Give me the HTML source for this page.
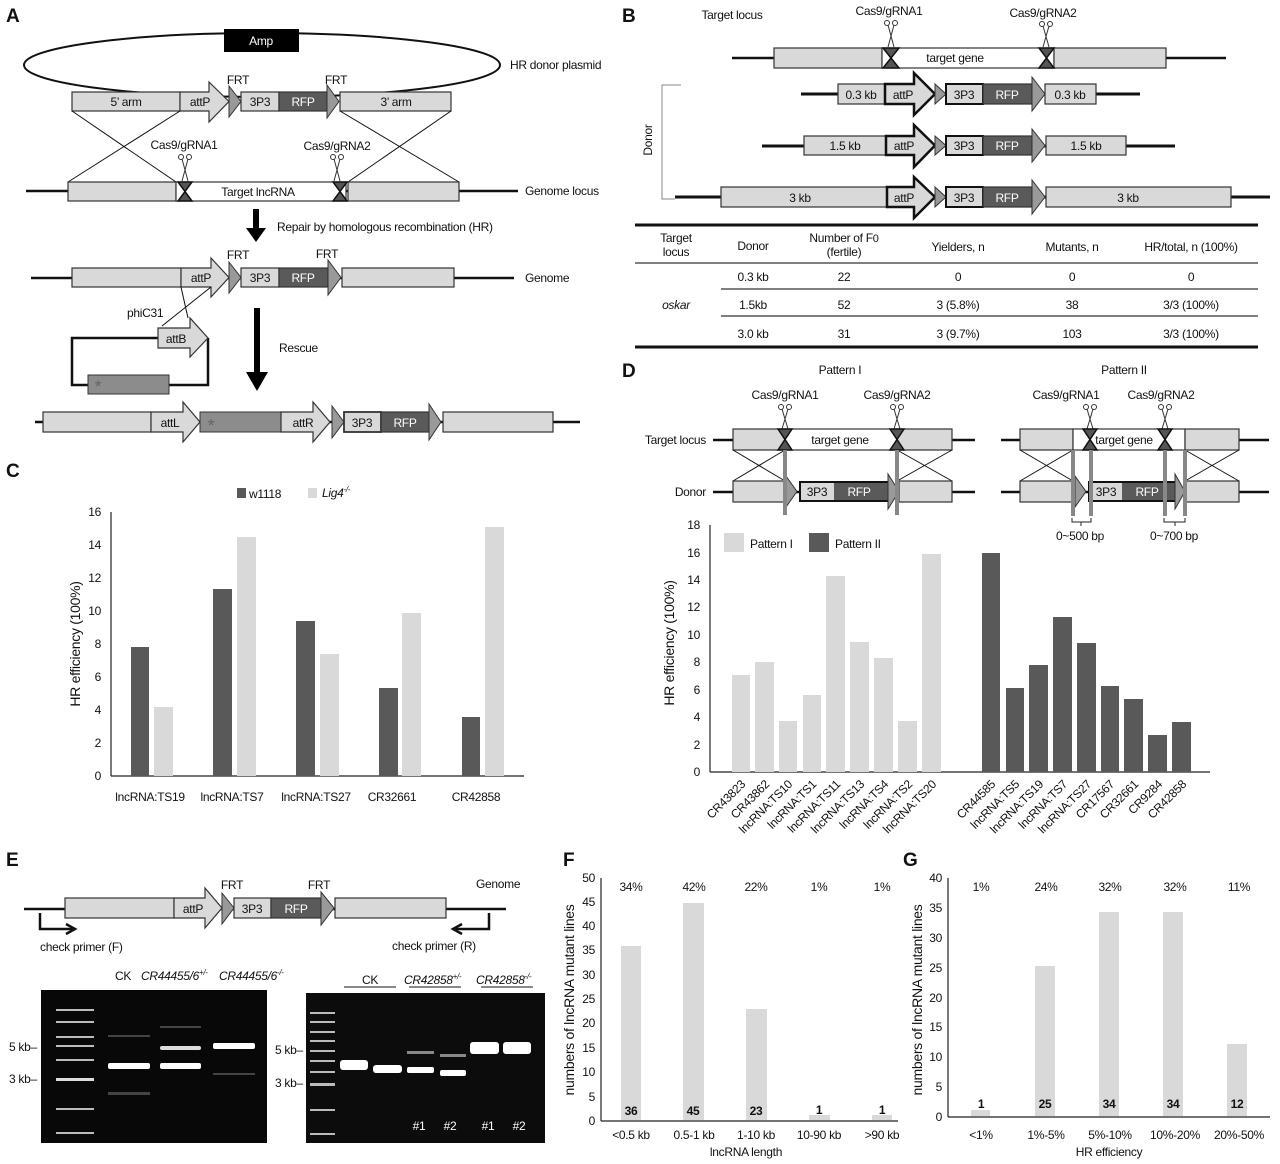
<!DOCTYPE html>
<html><head><meta charset="utf-8"><style>
html,body{margin:0;padding:0;background:#fff}
svg{display:block}
text{font-family:"Liberation Sans",Arial,sans-serif;font-size:12px;fill:#111;letter-spacing:-0.3px}
.L{font-size:19px;font-weight:bold;letter-spacing:0}
.lt{fill:#d9d9d9;stroke:#333;stroke-width:1.2}
.dk{fill:#5a5a5a;stroke:#333;stroke-width:1.2}
.gr{fill:#999;stroke:#333;stroke-width:1}
.wh{fill:#fff;stroke:#333;stroke-width:1.2}
.ln{stroke:#111;stroke-width:2.5}
.th{stroke:#111;stroke-width:1}
.bt{fill:#555;stroke:#111;stroke-width:1.5}
.w{fill:#fff}
.gl{stroke:#888;stroke-width:4}
</style></head><body>
<svg width="1280" height="1164" viewBox="0 0 1280 1164" xmlns="http://www.w3.org/2000/svg">

<!-- ===== A ===== -->
<text class="L" x="6" y="22">A</text>
<ellipse cx="262" cy="65" rx="238" ry="32" fill="none" stroke="#111" stroke-width="2"/>
<rect x="224" y="29" width="75" height="23" fill="#000"/>
<text x="261" y="45" text-anchor="middle" class="w" style="fill:#fff">Amp</text>
<text x="510" y="69">HR donor plasmid</text>
<rect class="lt" x="72" y="92" width="108" height="19"/><text x="126" y="106" text-anchor="middle">5’ arm</text>
<polygon class="lt" points="180,92 209,92 209,82 229,101.5 209,122 209,111 180,111"/><text x="200" y="106" text-anchor="middle">attP</text>
<polygon class="gr" points="229,86 241,101.5 229,117"/>
<rect class="lt" x="241" y="92" width="38" height="19"/><text x="260" y="106" text-anchor="middle">3P3</text>
<rect class="dk" x="279" y="92" width="48" height="19"/><text x="303" y="106" text-anchor="middle" style="fill:#fff">RFP</text>
<polygon class="gr" points="327,85 339,101.5 327,118"/>
<rect class="lt" x="340" y="92" width="111" height="19"/><text x="396" y="106" text-anchor="middle">3’ arm</text>
<text x="238" y="84" text-anchor="middle">FRT</text><text x="336" y="84" text-anchor="middle">FRT</text>
<line class="th" x1="72" y1="111" x2="176" y2="182"/><line class="th" x1="180" y1="111" x2="68" y2="182"/>
<line class="th" x1="340" y1="111" x2="459" y2="182"/><line class="th" x1="451" y1="111" x2="348" y2="182"/>
<line class="ln" x1="26" y1="191" x2="518" y2="191"/>
<rect class="lt" x="68" y="182" width="108" height="19"/>
<rect class="wh" x="176" y="182" width="170" height="19"/>
<rect class="lt" x="348" y="182" width="111" height="19"/>
<text x="258" y="196" text-anchor="middle">Target lncRNA</text>
<polygon class="bt" points="178,182 192,182 185,191.5"/><polygon class="bt" points="178,201 192,201 185,191.5"/>
<polygon class="bt" points="333,182 347,182 340,191.5"/><polygon class="bt" points="333,201 347,201 340,191.5"/>
<text x="184" y="149" text-anchor="middle">Cas9/gRNA1</text><text x="337" y="150" text-anchor="middle">Cas9/gRNA2</text>
<g fill="none" stroke="#333" stroke-width="1"><circle cx="181" cy="157" r="2.5"/><circle cx="189" cy="157" r="2.5"/><path d="M182,159 L188,181 M188,159 L182,181"/>
<circle cx="333" cy="157" r="2.5"/><circle cx="341" cy="157" r="2.5"/><path d="M334,159 L340,181 M340,159 L334,181"/></g>
<text x="525" y="195">Genome locus</text>
<rect x="253" y="209" width="6" height="20" fill="#000"/><polygon points="246,228 266,228 256,242" fill="#000"/>
<text x="277" y="231">Repair by homologous recombination (HR)</text>
<text x="238" y="259" text-anchor="middle">FRT</text><text x="327" y="258" text-anchor="middle">FRT</text>
<line class="ln" x1="31" y1="278" x2="514" y2="278"/>
<rect class="lt" x="72" y="268" width="109" height="19"/>
<polygon class="lt" points="181,268 211,268 211,258 229,277.5 211,297 211,287 181,287"/><text x="201" y="282" text-anchor="middle">attP</text>
<polygon class="gr" points="229,262 241,277.5 229,293"/>
<rect class="lt" x="241" y="268" width="38" height="19"/><text x="260" y="282" text-anchor="middle">3P3</text>
<rect class="dk" x="279" y="268" width="49" height="19"/><text x="303" y="282" text-anchor="middle" style="fill:#fff">RFP</text>
<polygon class="gr" points="328,260 341,277.5 328,295"/>
<rect class="lt" x="342" y="268" width="112" height="19"/>
<text x="525" y="282">Genome</text>
<line class="th" x1="181" y1="287" x2="188" y2="318"/><line class="th" x1="211" y1="287" x2="162" y2="326"/>
<text x="127" y="317">phiC31</text>
<polyline points="158,338 72,338 72,385 88,385" fill="none" stroke="#111" stroke-width="2.5"/>
<polyline points="169,385 208,385 208,338" fill="none" stroke="#111" stroke-width="2.5"/>
<polygon class="lt" points="158,328 190,328 190,318 208,338 190,357 190,348 158,348"/><text x="176" y="343" text-anchor="middle">attB</text>
<rect x="88" y="375" width="81" height="19" fill="#8c8c8c" stroke="#333"/><text x="98" y="393" text-anchor="middle" style="fill:#666;font-size:18px">*</text>
<rect x="254" y="308" width="6" height="67" fill="#000"/><polygon points="246,372 268,372 257,391" fill="#000"/>
<text x="279" y="352">Rescue</text>
<line class="ln" x1="35" y1="422" x2="580" y2="422"/>
<rect class="lt" x="43" y="412" width="108" height="20"/>
<polygon class="lt" points="151,412 183,412 183,402 200,422 183,442 183,432 151,432"/><text x="170" y="427" text-anchor="middle">attL</text>
<rect x="200" y="412" width="81" height="20" fill="#8c8c8c" stroke="#333"/><text x="211" y="432" text-anchor="middle" style="fill:#666;font-size:18px">*</text>
<polygon class="lt" points="281,412 313,412 313,402 330,422 313,442 313,432 281,432"/><text x="303" y="427" text-anchor="middle">attR</text>
<polygon class="gr" points="332,406 344,422 332,438"/>
<rect class="lt" x="344" y="412" width="37" height="20" style="stroke-width:1.8"/><text x="362" y="427" text-anchor="middle">3P3</text>
<rect class="dk" x="381" y="412" width="48" height="20"/><text x="405" y="427" text-anchor="middle" style="fill:#fff">RFP</text>
<polygon class="gr" points="429,404 441,422 429,440"/>
<rect class="lt" x="443" y="412" width="110" height="20"/>

<!-- ===== B ===== -->
<text class="L" x="622" y="22">B</text>
<text x="732" y="19" text-anchor="middle">Target locus</text>
<text x="889" y="15" text-anchor="middle">Cas9/gRNA1</text><text x="1043" y="17" text-anchor="middle">Cas9/gRNA2</text>
<g fill="none" stroke="#333" stroke-width="1"><circle cx="887" cy="23" r="2.5"/><circle cx="895" cy="23" r="2.5"/><path d="M888,25 L894,47 M894,25 L888,47"/>
<circle cx="1042" cy="24" r="2.5"/><circle cx="1050" cy="24" r="2.5"/><path d="M1043,26 L1049,47 M1049,26 L1043,47"/></g>
<line class="ln" x1="732" y1="58" x2="1226" y2="58"/>
<rect class="lt" x="774" y="48" width="108" height="20"/>
<rect class="wh" x="882" y="48" width="172" height="20"/>
<rect class="lt" x="1054" y="48" width="112" height="20"/>
<text x="955" y="62" text-anchor="middle">target gene</text>
<polygon class="bt" points="883,48 899,48 891,58"/><polygon class="bt" points="883,68 899,68 891,58"/>
<polygon class="bt" points="1039,48 1054,48 1046.5,58"/><polygon class="bt" points="1039,68 1054,68 1046.5,58"/>
<g>
<line class="ln" x1="801" y1="94" x2="1140" y2="94" style="stroke-width:3"/>
<rect class="lt" x="838" y="84" width="47" height="20"/><text x="861" y="99" text-anchor="middle">0.3 kb</text>
<polygon class="lt" points="885,84 914,84 914,73 935,94 914,115 914,104 885,104" style="stroke:#111;stroke-width:2.5"/><text x="903" y="99" text-anchor="middle">attP</text>
<polygon class="gr" points="935,84 946,94 935,104"/>
<rect class="lt" x="946" y="84" width="37" height="20" style="stroke:#111;stroke-width:2"/><text x="964" y="99" text-anchor="middle">3P3</text>
<rect class="dk" x="983" y="84" width="49" height="20"/><text x="1007" y="99" text-anchor="middle" style="fill:#fff">RFP</text>
<polygon class="gr" points="1032,77 1045,94 1032,111"/>
<rect class="lt" x="1045" y="84" width="51" height="20"/><text x="1070" y="99" text-anchor="middle">0.3 kb</text>
</g>
<g>
<line class="ln" x1="762" y1="146" x2="1175" y2="146" style="stroke-width:3"/>
<rect class="lt" x="804" y="136" width="82" height="19"/><text x="845" y="150" text-anchor="middle">1.5 kb</text>
<polygon class="lt" points="886,136 914,136 914,125 935,145.5 914,167 914,155 886,155" style="stroke:#111;stroke-width:2.5"/><text x="904" y="150" text-anchor="middle">attP</text>
<polygon class="gr" points="935,136 946,145.5 935,155"/>
<rect class="lt" x="946" y="136" width="37" height="19" style="stroke:#111;stroke-width:2"/><text x="964" y="150" text-anchor="middle">3P3</text>
<rect class="dk" x="983" y="136" width="49" height="19"/><text x="1007" y="150" text-anchor="middle" style="fill:#fff">RFP</text>
<polygon class="gr" points="1032,129 1045,145.5 1032,162"/>
<rect class="lt" x="1046" y="136" width="80" height="19"/><text x="1086" y="150" text-anchor="middle">1.5 kb</text>
</g>
<g>
<line class="ln" x1="675" y1="197" x2="1270" y2="197" style="stroke-width:3"/>
<rect class="lt" x="721" y="187" width="166" height="20"/><text x="800" y="202" text-anchor="middle">3 kb</text>
<polygon class="lt" points="887,187 914,187 914,177 935,197 914,218 914,207 887,207" style="stroke:#111;stroke-width:2.5"/><text x="904" y="202" text-anchor="middle">attP</text>
<polygon class="gr" points="935,187 946,197 935,207"/>
<rect class="lt" x="946" y="187" width="37" height="20" style="stroke:#111;stroke-width:2"/><text x="964" y="202" text-anchor="middle">3P3</text>
<rect class="dk" x="983" y="187" width="49" height="20"/><text x="1007" y="202" text-anchor="middle" style="fill:#fff">RFP</text>
<polygon class="gr" points="1032,180 1045,197 1032,214"/>
<rect class="lt" x="1046" y="187" width="185" height="20"/><text x="1128" y="202" text-anchor="middle">3 kb</text>
</g>
<polyline points="681,85 662,85 662,199 675,199" fill="none" stroke="#888" stroke-width="1"/>
<text x="0" y="0" transform="translate(652,140) rotate(-90)" text-anchor="middle">Donor</text>
<line x1="635" y1="225" x2="1258" y2="225" stroke="#111" stroke-width="3"/>
<line x1="635" y1="263" x2="1258" y2="263" stroke="#333" stroke-width="1.2"/>
<line x1="721" y1="289" x2="1258" y2="289" stroke="#333" stroke-width="1.2"/>
<line x1="721" y1="316" x2="1258" y2="316" stroke="#333" stroke-width="1.2"/>
<line x1="635" y1="347" x2="1258" y2="347" stroke="#111" stroke-width="3"/>
<g text-anchor="middle">
<text x="676" y="242">Target</text><text x="676" y="256">locus</text>
<text x="753" y="250">Donor</text>
<text x="844" y="242">Number of F<tspan font-size="11">0</tspan></text><text x="844" y="256">(fertile)</text>
<text x="958" y="251">Yielders, n</text>
<text x="1072" y="251">Mutants, n</text>
<text x="1191" y="251">HR/total, n (100%)</text>
<text x="753" y="281">0.3 kb</text><text x="844" y="281">22</text><text x="958" y="281">0</text><text x="1072" y="281">0</text><text x="1191" y="281">0</text>
<text x="676" y="309" font-style="italic">oskar</text>
<text x="753" y="309">1.5kb</text><text x="844" y="309">52</text><text x="958" y="309">3 (5.8%)</text><text x="1072" y="309">38</text><text x="1191" y="309">3/3 (100%)</text>
<text x="753" y="338">3.0 kb</text><text x="844" y="338">31</text><text x="958" y="338">3 (9.7%)</text><text x="1072" y="338">103</text><text x="1191" y="338">3/3 (100%)</text>
</g>

<!-- ===== C ===== -->
<text class="L" x="6" y="477">C</text>
<rect x="237" y="488" width="9" height="10" fill="#595959"/><text x="249" y="498">w1118</text>
<rect x="308" y="488" width="9" height="10" fill="#d9d9d9"/><text x="322" y="497" font-style="italic">Lig4<tspan font-size="8" dy="-5">-/-</tspan></text>
<line x1="111" y1="512" x2="111" y2="776" stroke="#222" stroke-width="1.2"/>
<line x1="111" y1="776" x2="524" y2="776" stroke="#222" stroke-width="1.2"/>
<g text-anchor="end">
<text x="101" y="780">0</text><text x="101" y="747">2</text><text x="101" y="714">4</text><text x="101" y="681">6</text><text x="101" y="648">8</text><text x="101" y="615">10</text><text x="101" y="582">12</text><text x="101" y="549">14</text><text x="101" y="516">16</text>
</g>
<text transform="translate(80,644) rotate(-90)" text-anchor="middle" style="font-size:14px">HR efficiency (100%)</text>
<g fill="#595959">
<rect x="131" y="647" width="18" height="129"/><rect x="213" y="589" width="19" height="187"/><rect x="296" y="621" width="19" height="155"/><rect x="379" y="688" width="19" height="88"/><rect x="462" y="717" width="18" height="59"/>
</g>
<g fill="#d9d9d9">
<rect x="154" y="707" width="19" height="69"/><rect x="237" y="537" width="19" height="239"/><rect x="320" y="654" width="19" height="122"/><rect x="402" y="613" width="19" height="163"/><rect x="485" y="527" width="19" height="249"/>
</g>
<g text-anchor="middle">
<text x="150" y="801">lncRNA:TS19</text><text x="232" y="801">lncRNA:TS7</text><text x="316" y="801">lncRNA:TS27</text><text x="392" y="801">CR32661</text><text x="476" y="801">CR42858</text>
</g>

<!-- ===== D ===== -->
<text class="L" x="622" y="377">D</text>
<text x="840" y="374" text-anchor="middle">Pattern I</text><text x="1124" y="374" text-anchor="middle">Pattern II</text>
<text x="785" y="399" text-anchor="middle">Cas9/gRNA1</text><text x="897" y="399" text-anchor="middle">Cas9/gRNA2</text>
<text x="1066" y="399" text-anchor="middle">Cas9/gRNA1</text><text x="1161" y="399" text-anchor="middle">Cas9/gRNA2</text>
<g fill="none" stroke="#333" stroke-width="1">
<circle cx="781" cy="407" r="2.5"/><circle cx="789" cy="407" r="2.5"/><path d="M782,409 L788,429 M788,409 L782,429"/>
<circle cx="893" cy="407" r="2.5"/><circle cx="901" cy="407" r="2.5"/><path d="M894,409 L900,429 M900,409 L894,429"/>
<circle cx="1086" cy="407" r="2.5"/><circle cx="1094" cy="407" r="2.5"/><path d="M1087,409 L1093,429 M1093,409 L1087,429"/>
<circle cx="1161" cy="407" r="2.5"/><circle cx="1169" cy="407" r="2.5"/><path d="M1162,409 L1168,429 M1168,409 L1162,429"/>
</g>
<text x="706" y="444" text-anchor="end">Target locus</text>
<text x="706" y="496" text-anchor="end">Donor</text>
<line class="ln" x1="713" y1="440" x2="975" y2="440"/>
<rect class="lt" x="733" y="429" width="52" height="21"/>
<rect class="wh" x="785" y="429" width="112" height="21"/>
<rect class="lt" x="897" y="429" width="55" height="21"/>
<text x="840" y="444" text-anchor="middle">target gene</text>
<polygon class="bt" points="778,429 792,429 785,439.5"/><polygon class="bt" points="778,450 792,450 785,439.5"/>
<polygon class="bt" points="890,429 904,429 897,439.5"/><polygon class="bt" points="890,450 904,450 897,439.5"/>
<line class="th" x1="733" y1="450" x2="785" y2="481"/><line class="th" x1="785" y1="450" x2="733" y2="481"/>
<line class="th" x1="897" y1="450" x2="952" y2="481"/><line class="th" x1="952" y1="450" x2="897" y2="481"/>
<line class="ln" x1="713" y1="492" x2="975" y2="492"/>
<rect class="lt" x="733" y="481" width="53" height="21"/>
<polygon class="gr" points="786,476 797,491.5 786,507"/>
<rect x="799" y="481" width="89" height="21" fill="#111"/>
<rect x="801" y="483" width="33" height="17" fill="#d9d9d9"/><text x="817" y="496" text-anchor="middle">3P3</text>
<rect x="834" y="483" width="54" height="17" fill="#5a5a5a"/><text x="859" y="496" text-anchor="middle" style="fill:#fff">RFP</text>
<polygon class="gr" points="888,474 899,491.5 888,509"/>
<rect class="lt" x="899" y="481" width="53" height="21"/>
<line class="gl" x1="785" y1="450" x2="785" y2="515"/><line class="gl" x1="897" y1="450" x2="897" y2="515"/>
<line class="ln" x1="1001" y1="440" x2="1269" y2="440"/>
<rect class="lt" x="1020" y="429" width="53" height="21"/>
<rect class="wh" x="1073" y="429" width="112" height="21"/>
<rect class="lt" x="1185" y="429" width="54" height="21"/>
<text x="1124" y="444" text-anchor="middle">target gene</text>
<polygon class="bt" points="1083,429 1097,429 1090,439.5"/><polygon class="bt" points="1083,450 1097,450 1090,439.5"/>
<polygon class="bt" points="1158,429 1172,429 1165,439.5"/><polygon class="bt" points="1158,450 1172,450 1165,439.5"/>
<line class="th" x1="1020" y1="450" x2="1073" y2="481"/><line class="th" x1="1073" y1="450" x2="1020" y2="481"/>
<line class="th" x1="1185" y1="450" x2="1239" y2="481"/><line class="th" x1="1239" y1="450" x2="1185" y2="481"/>
<line class="ln" x1="1001" y1="492" x2="1269" y2="492"/>
<rect class="lt" x="1020" y="481" width="55" height="21"/>
<polygon class="gr" points="1075,476 1086,491.5 1075,507"/>
<rect x="1088" y="481" width="87" height="21" fill="#111"/>
<rect x="1090" y="483" width="32" height="17" fill="#d9d9d9"/><text x="1106" y="496" text-anchor="middle">3P3</text>
<rect x="1122" y="483" width="53" height="17" fill="#5a5a5a"/><text x="1147" y="496" text-anchor="middle" style="fill:#fff">RFP</text>
<polygon class="gr" points="1175,474 1185,491.5 1175,509"/>
<rect class="lt" x="1185" y="481" width="54" height="21"/>
<line class="gl" x1="1073" y1="450" x2="1073" y2="516"/><line class="gl" x1="1091" y1="450" x2="1091" y2="516"/>
<line class="gl" x1="1165" y1="450" x2="1165" y2="516"/><line class="gl" x1="1185" y1="450" x2="1185" y2="516"/>
<path d="M1072,518 v4 h19 v-4 M1081,522 v4 M1164,518 v4 h21 v-4 M1175,522 v4" fill="none" stroke="#222" stroke-width="1"/>
<text x="1080" y="540" text-anchor="middle">0~500 bp</text><text x="1174" y="540" text-anchor="middle">0~700 bp</text>
<rect x="724" y="533" width="20" height="19" fill="#d9d9d9"/><text x="750" y="548">Pattern I</text>
<rect x="809" y="533" width="20" height="19" fill="#595959"/><text x="835" y="548">Pattern II</text>
<line x1="710" y1="525" x2="710" y2="772" stroke="#222" stroke-width="1.2"/>
<line x1="710" y1="772" x2="1210" y2="772" stroke="#222" stroke-width="1.2"/>
<g text-anchor="end">
<text x="700" y="776">0</text><text x="700" y="749">2</text><text x="700" y="721">4</text><text x="700" y="694">6</text><text x="700" y="666">8</text><text x="700" y="639">10</text><text x="700" y="611">12</text><text x="700" y="584">14</text><text x="700" y="557">16</text><text x="700" y="529">18</text>
</g>
<text transform="translate(674,643) rotate(-90)" text-anchor="middle" style="font-size:14px">HR efficiency (100%)</text>
<g fill="#d9d9d9">
<rect x="732" y="675" width="18" height="97"/><rect x="755" y="662" width="19" height="110"/><rect x="779" y="721" width="18" height="51"/><rect x="803" y="695" width="18" height="77"/><rect x="826" y="576" width="19" height="196"/><rect x="850" y="642" width="19" height="130"/><rect x="874" y="658" width="19" height="114"/><rect x="898" y="721" width="19" height="51"/><rect x="922" y="554" width="19" height="218"/>
</g>
<g fill="#595959">
<rect x="982" y="553" width="18" height="219"/><rect x="1006" y="688" width="18" height="84"/><rect x="1029" y="665" width="19" height="107"/><rect x="1053" y="617" width="19" height="155"/><rect x="1077" y="643" width="19" height="129"/><rect x="1101" y="686" width="18" height="86"/><rect x="1124" y="699" width="19" height="73"/><rect x="1148" y="735" width="19" height="37"/><rect x="1172" y="722" width="19" height="50"/>
</g>
<g text-anchor="end">
<text transform="translate(746,785) rotate(-45)">CR43823</text>
<text transform="translate(770,785) rotate(-45)">CR43862</text>
<text transform="translate(793,785) rotate(-45)">lncRNA:TS10</text>
<text transform="translate(817,785) rotate(-45)">lncRNA:TS1</text>
<text transform="translate(841,785) rotate(-45)">lncRNA:TS11</text>
<text transform="translate(865,785) rotate(-45)">lncRNA:TS13</text>
<text transform="translate(889,785) rotate(-45)">lncRNA:TS4</text>
<text transform="translate(913,785) rotate(-45)">lncRNA:TS2</text>
<text transform="translate(937,785) rotate(-45)">lncRNA:TS20</text>
<text transform="translate(996,785) rotate(-45)">CR44585</text>
<text transform="translate(1020,785) rotate(-45)">lncRNA:TS5</text>
<text transform="translate(1044,785) rotate(-45)">lncRNA:TS19</text>
<text transform="translate(1068,785) rotate(-45)">lncRNA:TS7</text>
<text transform="translate(1092,785) rotate(-45)">lncRNA:TS27</text>
<text transform="translate(1115,785) rotate(-45)">CR17567</text>
<text transform="translate(1139,785) rotate(-45)">CR32661</text>
<text transform="translate(1163,785) rotate(-45)">CR9284</text>
<text transform="translate(1187,785) rotate(-45)">CR42858</text>
</g>

<!-- ===== E ===== -->
<text class="L" x="6" y="866">E</text>
<text x="232" y="889" text-anchor="middle">FRT</text><text x="319" y="889" text-anchor="middle">FRT</text>
<text x="476" y="888">Genome</text>
<line class="ln" x1="24" y1="909" x2="506" y2="909"/>
<rect class="lt" x="65" y="898" width="109" height="20"/>
<polygon class="lt" points="174,898 205,898 205,888 222,908 205,928 205,918 174,918"/><text x="193" y="913" text-anchor="middle">attP</text>
<polygon class="gr" points="222,893 234,908 222,924"/>
<rect class="lt" x="234" y="898" width="37" height="20"/><text x="252" y="913" text-anchor="middle">3P3</text>
<rect class="dk" x="271" y="898" width="50" height="20"/><text x="296" y="913" text-anchor="middle" style="fill:#fff">RFP</text>
<polygon class="gr" points="321,892 334,908 321,925"/>
<rect class="lt" x="335" y="898" width="111" height="20"/>
<polyline points="40,913 40,929 72,929" fill="none" stroke="#111" stroke-width="2.5"/><polyline points="66,924 75,929 66,934" fill="none" stroke="#111" stroke-width="2.5"/>
<polyline points="489,913 489,929 456,929" fill="none" stroke="#111" stroke-width="2.5"/><polyline points="462,924 453,929 462,934" fill="none" stroke="#111" stroke-width="2.5"/>
<text x="40" y="951">check primer (F)</text><text x="392" y="950">check primer (R)</text>
<text x="123" y="980" text-anchor="middle">CK</text>
<text x="141" y="980" font-style="italic">CR44455/6<tspan font-size="8" dy="-5">+/-</tspan></text>
<text x="219" y="980" font-style="italic">CR44455/6<tspan font-size="8" dy="-5">-/-</tspan></text>
<text x="370" y="984" text-anchor="middle">CK</text>
<text x="404" y="984" font-style="italic">CR42858<tspan font-size="8" dy="-5">+/-</tspan></text>
<text x="476" y="984" font-style="italic">CR42858<tspan font-size="8" dy="-5">-/-</tspan></text>
<g stroke="#111" stroke-width="1"><line x1="344" y1="987" x2="396" y2="987"/><line x1="409" y1="987" x2="461" y2="987"/><line x1="481" y1="987" x2="533" y2="987"/></g>
<rect x="41" y="990" width="226" height="153" fill="#080808"/>
<rect x="306" y="993" width="239" height="150" fill="#0c0c0c"/>
<g fill="#bbb">
<rect x="56" y="1009" width="38" height="2"/><rect x="56" y="1021" width="38" height="2"/><rect x="56" y="1036" width="38" height="2"/><rect x="56" y="1045" width="38" height="2"/><rect x="56" y="1059" width="38" height="2"/><rect x="56" y="1078" width="38" height="3" fill="#ddd"/><rect x="56" y="1108" width="38" height="2"/><rect x="56" y="1132" width="38" height="2"/>
<rect x="310" y="1012" width="25" height="2"/><rect x="310" y="1021" width="25" height="2"/><rect x="310" y="1031" width="25" height="2"/><rect x="310" y="1040" width="25" height="2"/><rect x="310" y="1050" width="25" height="2"/><rect x="310" y="1060" width="25" height="2"/><rect x="310" y="1071" width="25" height="2"/><rect x="310" y="1083" width="25" height="3"/><rect x="310" y="1109" width="25" height="2"/><rect x="310" y="1133" width="25" height="2"/>
</g>
<g fill="#fff">
<rect x="108" y="1063" width="42" height="6" rx="2"/>
<rect x="160" y="1046" width="41" height="4" rx="2" fill="#ddd"/><rect x="160" y="1063" width="41" height="6" rx="2"/>
<rect x="213" y="1043" width="42" height="6" rx="2"/>
<rect x="340" y="1060" width="28" height="10" rx="3"/><rect x="373" y="1065" width="29" height="8" rx="3"/>
<rect x="407" y="1051" width="27" height="3" fill="#888"/><rect x="407" y="1067" width="27" height="6" rx="2"/>
<rect x="440" y="1054" width="26" height="3" fill="#888"/><rect x="440" y="1070" width="26" height="6" rx="2"/>
<rect x="470" y="1042" width="29" height="12" rx="3"/><rect x="503" y="1042" width="28" height="12" rx="3"/>
</g>
<g fill="#444"><rect x="108" y="1035" width="42" height="2"/><rect x="108" y="1092" width="42" height="3"/><rect x="213" y="1073" width="42" height="2"/><rect x="160" y="1026" width="41" height="2"/></g>
<text x="9" y="1051">5 kb–</text><text x="9" y="1083">3 kb–</text>
<text x="275" y="1054">5 kb–</text><text x="275" y="1087">3 kb–</text>
<g text-anchor="middle"><text x="419" y="1130" style="fill:#fff">#1</text><text x="450" y="1130" style="fill:#fff">#2</text><text x="488" y="1130" style="fill:#fff">#1</text><text x="519" y="1130" style="fill:#fff">#2</text></g>

<!-- ===== F ===== -->
<text class="L" x="563" y="866">F</text>
<line x1="601" y1="878" x2="601" y2="1121" stroke="#222" stroke-width="1.2"/>
<line x1="601" y1="1121" x2="898" y2="1121" stroke="#222" stroke-width="1.2"/>
<g text-anchor="end">
<text x="595" y="1125">0</text><text x="595" y="1101">5</text><text x="595" y="1076">10</text><text x="595" y="1052">15</text><text x="595" y="1027">20</text><text x="595" y="1003">25</text><text x="595" y="979">30</text><text x="595" y="954">35</text><text x="595" y="930">40</text><text x="595" y="906">45</text><text x="595" y="882">50</text>
</g>
<text transform="translate(574,1000) rotate(-90)" text-anchor="middle" style="font-size:14px">numbers of lncRNA mutant lines</text>
<g fill="#d9d9d9">
<rect x="621" y="946" width="20" height="174"/><rect x="683" y="903" width="21" height="217"/><rect x="746" y="1009" width="21" height="111"/><rect x="809" y="1115" width="21" height="5"/><rect x="872" y="1115" width="20" height="5"/>
</g>
<g text-anchor="middle">
<text x="631" y="1115" font-weight="bold">36</text><text x="693" y="1115" font-weight="bold">45</text><text x="756" y="1115" font-weight="bold">23</text><text x="819" y="1114" font-weight="bold">1</text><text x="882" y="1114" font-weight="bold">1</text>
</g>
<g text-anchor="middle">
<text x="631" y="891">34%</text><text x="694" y="891">42%</text><text x="756" y="891">22%</text><text x="819" y="891">1%</text><text x="882" y="891">1%</text>
<text x="631" y="1139">&lt;0.5 kb</text><text x="694" y="1139">0.5-1 kb</text><text x="756" y="1139">1-10 kb</text><text x="819" y="1139">10-90 kb</text><text x="882" y="1139">&gt;90 kb</text>
<text x="746" y="1156">lncRNA length</text>
</g>

<!-- ===== G ===== -->
<text class="L" x="903" y="866">G</text>
<line x1="948" y1="878" x2="948" y2="1117" stroke="#222" stroke-width="1.2"/>
<line x1="948" y1="1117" x2="1270" y2="1117" stroke="#222" stroke-width="1.2"/>
<g text-anchor="end">
<text x="942" y="1121">0</text><text x="942" y="1091">5</text><text x="942" y="1061">10</text><text x="942" y="1031">15</text><text x="942" y="1002">20</text><text x="942" y="972">25</text><text x="942" y="942">30</text><text x="942" y="912">35</text><text x="942" y="882">40</text>
</g>
<text transform="translate(922,1000) rotate(-90)" text-anchor="middle" style="font-size:14px">numbers of lncRNA mutant lines</text>
<g fill="#d9d9d9">
<rect x="971" y="1110" width="19" height="6"/><rect x="1035" y="966" width="20" height="150"/><rect x="1099" y="912" width="20" height="204"/><rect x="1163" y="912" width="20" height="204"/><rect x="1227" y="1044" width="20" height="72"/>
</g>
<g text-anchor="middle">
<text x="981" y="1108" font-weight="bold">1</text><text x="1045" y="1108" font-weight="bold">25</text><text x="1109" y="1108" font-weight="bold">34</text><text x="1173" y="1108" font-weight="bold">34</text><text x="1237" y="1108" font-weight="bold">12</text>
<text x="981" y="891">1%</text><text x="1046" y="891">24%</text><text x="1110" y="891">32%</text><text x="1175" y="891">32%</text><text x="1239" y="891">11%</text>
<text x="981" y="1139">&lt;1%</text><text x="1046" y="1139">1%-5%</text><text x="1110" y="1139">5%-10%</text><text x="1175" y="1139">10%-20%</text><text x="1239" y="1139">20%-50%</text>
<text x="1109" y="1156">HR efficiency</text>
</g>
</svg>
</body></html>
